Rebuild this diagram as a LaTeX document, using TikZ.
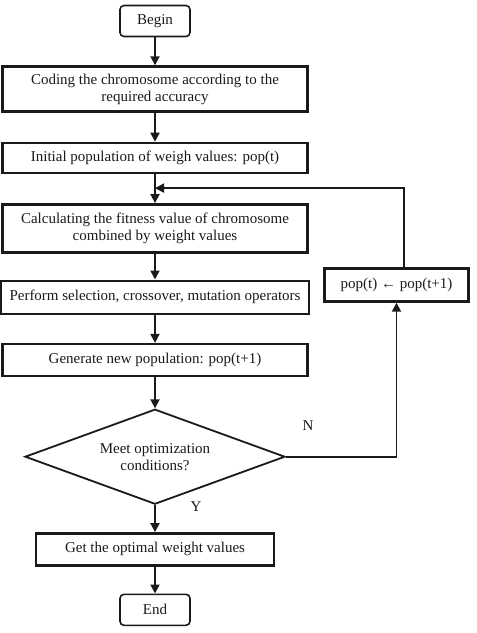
\documentclass[tikz,border=0pt]{standalone}
\usepackage{fontspec}
\setmainfont{Liberation Serif}
\usepackage{xcolor}
\definecolor{ink}{HTML}{1A1A1A}
\usepackage{tikz}
\usetikzlibrary{arrows.meta,positioning,shapes.geometric}
\tikzset{
  box/.style      = {rectangle, draw=ink, line width=2.4pt,
                     minimum width=305pt, minimum height=32pt, inner sep=2pt,
                     align=center, font=\fontsize{15}{17}\selectfont},
  terminal/.style = {rectangle, rounded corners=4pt, draw=ink, line width=1.6pt,
                     minimum width=70pt, minimum height=31pt,
                     align=center, font=\fontsize{15}{17}\selectfont},
  decision/.style = {diamond, aspect=2.7, draw=ink, line width=1.8pt,
                     minimum width=260pt, minimum height=95pt, inner sep=0pt,
                     align=center, font=\fontsize{15}{17}\selectfont},
  lbl/.style      = {inner sep=0pt, font=\fontsize{15}{17}\selectfont},
  arr/.style      = {-{Triangle[length=9pt,width=9pt]}, line width=1.8pt, draw=ink}
}

\begin{document}
\begin{tikzpicture}[x=1pt, y=1pt, node distance=28pt, text=ink]
  \useasboundingbox (0,0) rectangle (477,-633);
  % main column
  \node[terminal] (begin) at (155,-21) {Begin};
  \node[box, minimum height=45pt, below=28pt of begin] (coding) {Coding the chromosome according to the\\required accuracy};
  \node[box, minimum height=30pt, below=29pt of coding] (init) {Initial population of weigh values: pop(t)};
  \node[box, minimum height=48pt, below=29pt of init] (fitness) {Calculating the fitness value of chromosome\\combined by weight values};
  \node[box, minimum width=308pt, minimum height=33pt, below=26pt of fitness] (select) {Perform selection, crossover, mutation operators};
  \node[box, below=28pt of select] (newpop) {Generate new population: pop(t+1)};
  \node[decision, below=31pt of newpop] (check) {Meet optimization\\conditions?};
  \node[box, minimum width=238pt, below=27pt of check] (best) {Get the optimal weight values};
  \node[terminal, below=27pt of best] (end) {End};
  % loop back
  \node[box, minimum width=144pt, minimum height=33pt] (update) at (396.5,-285) {pop(t) ← pop(t+1)};
  \coordinate (merge) at ([yshift=15pt]fitness.north);
  \node[lbl] (no) at (308,-426) {N};
  \node[lbl] (yes) at (196,-507) {Y};

  \foreach \a/\b in {begin/coding,coding/init,init/fitness,fitness/select,
                     select/newpop,newpop/check,check/best,best/end}
    \draw[arr] (\a) -- (\b);
  \draw[arr] (check.east) -| (update.south);
  \draw[arr] ([xshift=7.5pt]update.north) |- (merge);
\end{tikzpicture}
\end{document}
